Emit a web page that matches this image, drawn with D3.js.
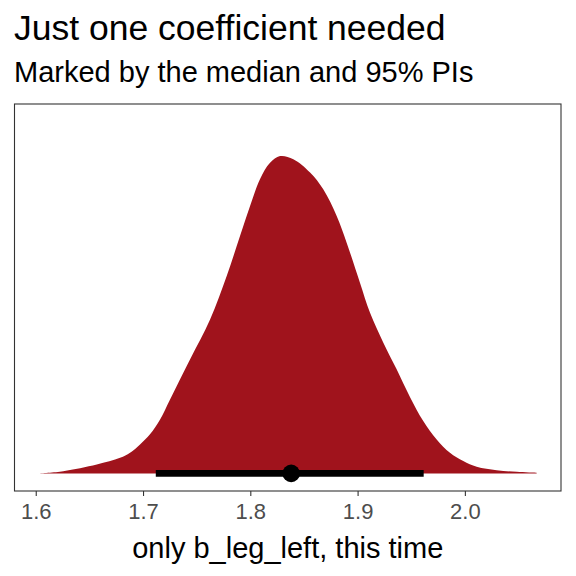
<!DOCTYPE html>
<html lang="en">
<head>
    <meta charset="UTF-8">
    <title>Just one coefficient needed</title>
    <script src="https://cdnjs.cloudflare.com/ajax/libs/d3/7.8.5/d3.min.js"></script>
    <style>
        body { margin: 0; background: #fff; font-family: "Liberation Sans", Arial, sans-serif; }
        svg { display: block; }
    </style>
</head>
<body>
    <div id="chart"></div>
    <script>
        // Posterior of b_leg_left (x value, relative density)
        const densX = [1.6034, 1.6257, 1.6569, 1.6786, 1.6879, 1.6972, 1.7065, 1.7159, 1.7252,
                       1.7438, 1.7625, 1.7780, 1.7904, 1.7997, 1.8090, 1.8184, 1.8277, 1.8401,
                       1.8557, 1.8680, 1.8805, 1.8898, 1.9022, 1.9116, 1.9240, 1.9364, 1.9488,
                       1.9612, 1.9737, 1.9861, 1.9985, 2.0110, 2.0296, 2.0483, 2.0669];
        const densY = [0.000, 0.007, 0.028, 0.049, 0.065, 0.091, 0.123, 0.170, 0.233,
                       0.359, 0.485, 0.622, 0.748, 0.842, 0.927, 0.979, 1.000, 0.990,
                       0.948, 0.895, 0.811, 0.727, 0.601, 0.506, 0.412, 0.328, 0.241,
                       0.165, 0.107, 0.065, 0.039, 0.021, 0.010, 0.005, 0.002];

        // median and 95% interval
        const median = 1.8381;
        const interval = [1.7119, 1.9616];

        const xTicks = [1.6, 1.7, 1.8, 1.9, 2.0];
        const titleText = "Just one coefficient needed";
        const subtitleText = "Marked by the median and 95% PIs";
        const xLabel = "only b_leg_left, this time";

        const width = 576, height = 576;
        const panel = { left: 14.5, right: 561, top: 104, bottom: 491 };
        const fillColor = "#a0131c";

        const svg = d3.select("#chart").append("svg")
            .attr("width", width)
            .attr("height", height);

        svg.append("rect").attr("width", width).attr("height", height).attr("fill", "#fff");

        const x = d3.scaleLinear()
            .domain([1.5802, 2.0896])
            .range([panel.left, panel.right]);

        const y = d3.scaleLinear()
            .domain([-0.0555, 1.164])
            .range([panel.bottom, panel.top]);

        // titles
        svg.append("text")
            .attr("x", 14).attr("y", 40)
            .attr("font-size", 35.5)
            .attr("fill", "#000")
            .text(titleText);

        svg.append("text")
            .attr("x", 14).attr("y", 82)
            .attr("font-size", 29)
            .attr("fill", "#000")
            .text(subtitleText);

        // density
        const pts = densX.map((d, i) => [d, densY[i]]);
        const area = d3.area()
            .x(d => x(d[0]))
            .y0(y(0))
            .y1(d => y(d[1]))
            .curve(d3.curveCatmullRom.alpha(0.5));

        svg.append("path")
            .datum(pts)
            .attr("d", area)
            .attr("fill", fillColor);

        // interval + median point
        svg.append("line")
            .attr("x1", x(interval[0])).attr("x2", x(interval[1]))
            .attr("y1", y(0)).attr("y2", y(0))
            .attr("stroke", "#000")
            .attr("stroke-width", 6.8);

        svg.append("circle")
            .attr("cx", x(median)).attr("cy", y(0))
            .attr("r", 8.8)
            .attr("fill", "#000");

        // panel border
        svg.append("rect")
            .attr("x", panel.left).attr("y", panel.top)
            .attr("width", panel.right - panel.left)
            .attr("height", panel.bottom - panel.top)
            .attr("fill", "none")
            .attr("stroke", "#333")
            .attr("stroke-width", 1.1);

        // x axis
        const xAxis = d3.axisBottom(x)
            .tickValues(xTicks)
            .tickFormat(d3.format(".1f"))
            .tickSize(5)
            .tickPadding(7);

        const gx = svg.append("g")
            .attr("transform", `translate(0,${panel.bottom})`)
            .call(xAxis);
        gx.select(".domain").remove();
        gx.selectAll(".tick line").attr("stroke", "#333").attr("stroke-width", 1.1);
        gx.selectAll(".tick text")
            .attr("fill", "#4d4d4d")
            .attr("font-size", 22)
            .attr("font-family", "Liberation Sans, Arial, sans-serif");

        svg.append("text")
            .attr("x", (panel.left + panel.right) / 2)
            .attr("y", 558)
            .attr("text-anchor", "middle")
            .attr("font-size", 29)
            .attr("fill", "#000")
            .text(xLabel);
    </script>
</body>
</html>
